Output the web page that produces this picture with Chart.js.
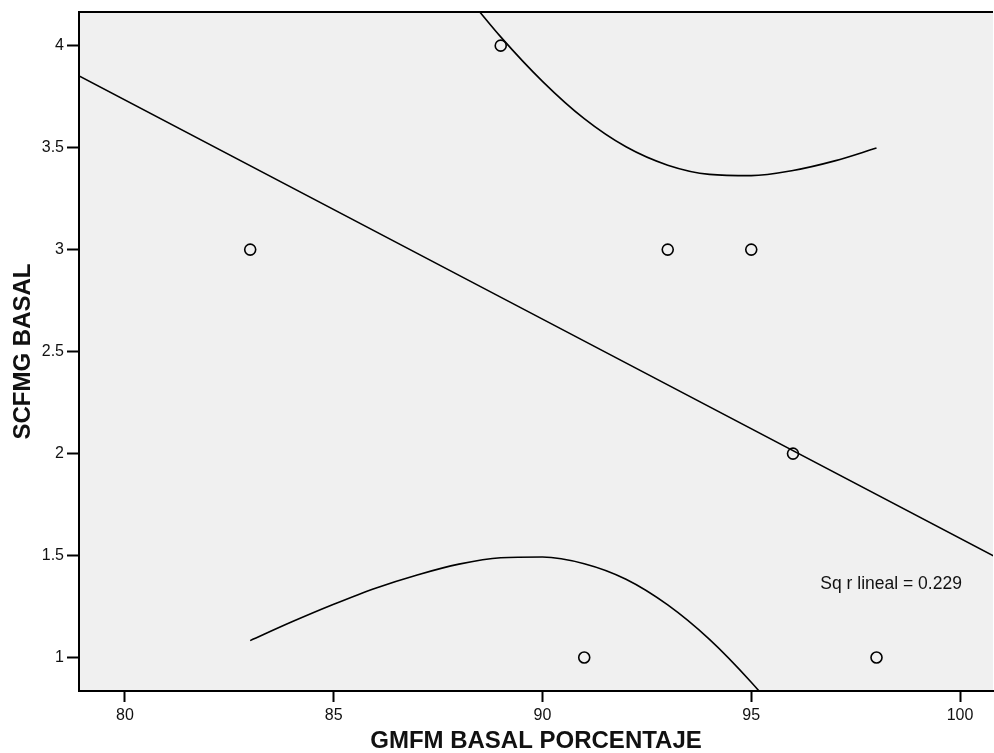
<!DOCTYPE html>
<html>
<head>
<meta charset="UTF-8">
<title>SCFMG BASAL vs GMFM BASAL PORCENTAJE</title>
<script src="https://cdn.jsdelivr.net/npm/chart.js@4.4.1/dist/chart.umd.min.js"></script>
<style>
  body { margin: 0; background: #fff; }
  #wrap { width: 994px; height: 753px; }
</style>
</head>
<body>
<div id="wrap">
  <canvas id="canvas" width="994" height="753"></canvas>
</div>
<script>
// puntos observados
const gmfm = [89, 83, 93, 95, 96, 91, 98];
const scfmg = [4, 3, 3, 3, 2, 1, 1];

// recta de ajuste lineal (extremos)
const fitX = [78, 101];
const fitY = [3.949, 1.477];

// banda de confianza
const upperX = [88, 89, 90, 91, 92, 93, 94, 95, 96, 97, 98];
const upperY = [4.290, 4.043, 3.825, 3.642, 3.504, 3.414, 3.369, 3.363, 3.388, 3.435, 3.498];
const lowerX = [83, 84, 85, 86, 87, 88, 89, 90, 91, 92, 93, 94, 95, 96];
const lowerY = [1.083, 1.175, 1.261, 1.340, 1.405, 1.458, 1.489, 1.493, 1.460, 1.384, 1.258, 1.089, 0.879, 0.640];

const xTicks = [80, 85, 90, 95, 100];
const yTicks = [1, 1.5, 2, 2.5, 3, 3.5, 4];
const r2Label = 'Sq r lineal = 0.229';
const r2Pos = [98.35, 1.36];

const xTitle = 'GMFM BASAL PORCENTAJE';
const yTitle = 'SCFMG BASAL';

function pairs(xs, ys) {
  return xs.map(function(x, i) { return {x: x, y: ys[i]}; });
}

const plotBox = {
  id: 'plotBox',
  beforeDraw: function(chart) {
    const a = chart.chartArea, c = chart.ctx;
    c.save();
    c.fillStyle = '#f0f0f0';
    c.fillRect(a.left, a.top, a.right - a.left, a.bottom - a.top);
    c.restore();
  },
  afterDraw: function(chart) {
    const a = chart.chartArea, c = chart.ctx;
    c.save();
    c.strokeStyle = '#000';
    c.lineWidth = 2;
    c.beginPath();
    c.moveTo(a.left, a.top);
    c.lineTo(a.right, a.top);
    c.stroke();
    // etiqueta R2
    const sx = chart.scales.x, sy = chart.scales.y;
    c.fillStyle = '#111';
    c.font = '17.5px "Liberation Sans", Arial, sans-serif';
    c.textAlign = 'center';
    c.textBaseline = 'middle';
    c.fillText(r2Label, sx.getPixelForValue(r2Pos[0]), sy.getPixelForValue(r2Pos[1]));
    c.restore();
  }
};

const lineStyle = {
  type: 'line', showLine: true, fill: false,
  borderColor: '#000', borderWidth: 1.6,
  pointRadius: 0, cubicInterpolationMode: 'monotone'
};

function noPad(s) {
  s.paddingLeft = 0; s.paddingRight = 0;
  s.paddingTop = 0; s.paddingBottom = 0;
}

new Chart(document.getElementById('canvas'), {
  type: 'scatter',
  data: {
    datasets: [
      Object.assign({ data: pairs(fitX, fitY) }, lineStyle),
      Object.assign({ data: pairs(upperX, upperY) }, lineStyle),
      Object.assign({ data: pairs(lowerX, lowerY) }, lineStyle),
      {
        data: pairs(gmfm, scfmg),
        pointStyle: 'circle',
        pointRadius: 5.5,
        pointBorderWidth: 1.6,
        pointBorderColor: '#000',
        pointBackgroundColor: 'rgba(0,0,0,0)'
      }
    ]
  },
  options: {
    responsive: false,
    animation: false,
    locale: 'en-US',
    layout: { autoPadding: false, padding: { left: 0, top: 12, right: 1, bottom: 0 } },
    plugins: { legend: { display: false }, tooltip: { enabled: false } },
    scales: {
      x: {
        type: 'linear',
        min: 78.9, max: 100.79,
        afterFit: function(s) { s.height = 62; noPad(s); },
        afterBuildTicks: function(s) { s.ticks = xTicks.map(function(v) { return {value: v}; }); },
        grid: { drawOnChartArea: false, drawTicks: true, tickLength: 11, tickColor: '#000', tickWidth: 2 },
        border: { display: true, color: '#000', width: 2 },
        ticks: { color: '#111', padding: 4, maxRotation: 0,
                 callback: function(v) { return String(v); },
                 font: { family: '"Liberation Sans", Arial, sans-serif', size: 16 } },
        title: { display: true, text: xTitle, color: '#111',
                 padding: { top: 0, bottom: 0 },
                 font: { family: '"Liberation Sans", Arial, sans-serif', size: 24, weight: 'bold', lineHeight: 1 } }
      },
      y: {
        type: 'linear',
        min: 0.836, max: 4.165,
        afterFit: function(s) { s.width = 79; noPad(s); },
        afterBuildTicks: function(s) { s.ticks = yTicks.map(function(v) { return {value: v}; }); },
        grid: { drawOnChartArea: false, drawTicks: true, tickLength: 12, tickColor: '#000', tickWidth: 2 },
        border: { display: true, color: '#000', width: 2 },
        ticks: { color: '#111', padding: 3,
                 callback: function(v) { return String(v); },
                 font: { family: '"Liberation Sans", Arial, sans-serif', size: 16 } },
        title: { display: true, text: yTitle, color: '#111',
                 padding: { top: 11, bottom: 0 },
                 font: { family: '"Liberation Sans", Arial, sans-serif', size: 24, weight: 'bold', lineHeight: 1 } }
      }
    }
  },
  plugins: [plotBox]
});
</script>
</body>
</html>
